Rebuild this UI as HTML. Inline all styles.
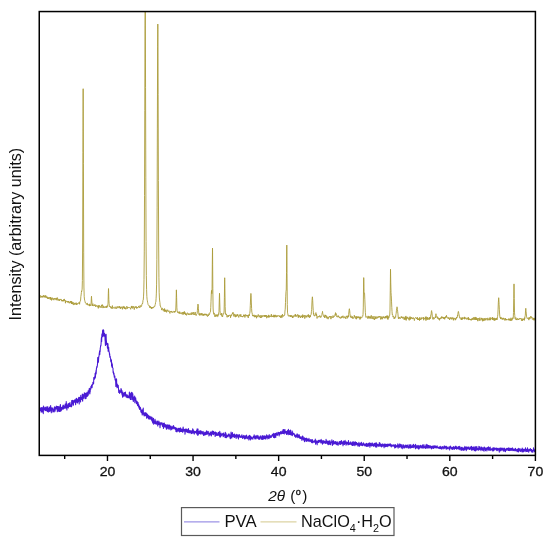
<!DOCTYPE html>
<html><head><meta charset="utf-8"><style>
html,body{margin:0;padding:0;background:#fff;}
body{width:550px;height:545px;overflow:hidden;}
svg{display:block;font-family:"Liberation Sans",sans-serif;will-change:transform;}
</style></head><body>
<svg width="550" height="545" viewBox="0 0 550 545">
<defs><clipPath id="c"><rect x="39.5" y="11.5" width="496" height="444"/></clipPath></defs>
<g clip-path="url(#c)" fill="none" stroke-linejoin="round">
<path d="M39.00 295.99L39.26 296.32 39.51 295.87 39.77 295.38 40.03 295.84 40.28 295.42 40.54 296.43 40.80 297.64 41.05 296.06 41.31 296.00 41.57 297.06 41.82 297.01 42.08 296.84 42.34 295.97 42.59 296.84 42.85 297.55 43.11 295.78 43.36 296.63 43.62 295.39 43.88 296.00 44.14 295.56 44.39 297.06 44.65 296.19 44.91 297.63 45.16 297.58 45.42 297.32 45.68 295.30 45.93 297.11 46.19 297.61 46.45 297.80 46.70 296.38 46.96 297.37 47.22 296.97 47.47 297.18 47.73 298.90 47.99 297.27 48.24 298.02 48.50 298.89 48.76 297.62 49.01 298.08 49.27 298.33 49.53 298.33 49.78 297.21 50.04 298.42 50.30 299.61 50.55 297.04 50.81 299.24 51.07 298.61 51.32 297.97 51.58 300.38 51.84 299.30 52.09 297.57 52.35 298.75 52.61 299.23 52.86 298.58 53.12 299.39 53.38 298.75 53.64 299.44 53.89 300.17 54.15 298.30 54.41 299.12 54.66 298.56 54.92 299.12 55.18 297.97 55.43 298.55 55.69 298.93 55.95 299.94 56.20 300.20 56.46 298.02 56.72 298.53 56.97 299.85 57.23 297.52 57.49 298.93 57.74 299.30 58.00 300.55 58.26 300.08 58.51 299.21 58.77 299.22 59.03 299.37 59.28 301.00 59.54 299.30 59.80 299.46 60.05 300.09 60.31 299.72 60.57 299.71 60.82 298.94 61.08 299.98 61.34 299.66 61.59 301.16 61.85 300.76 62.11 300.22 62.37 300.91 62.62 300.07 62.88 301.39 63.14 300.51 63.39 301.11 63.65 299.50 63.91 301.04 64.16 299.29 64.42 299.06 64.68 300.69 64.93 300.23 65.19 301.26 65.45 303.20 65.70 300.53 65.96 300.79 66.22 301.62 66.47 301.95 66.73 301.44 66.99 301.49 67.24 302.38 67.50 302.30 67.76 300.99 68.01 301.93 68.27 302.11 68.53 301.22 68.78 302.47 69.04 301.55 69.30 303.26 69.55 302.64 69.81 302.63 70.07 302.10 70.32 302.60 70.58 300.99 70.84 301.84 71.09 303.25 71.35 301.12 71.61 303.86 71.87 301.64 72.12 303.95 72.38 302.62 72.64 304.14 72.89 303.64 73.15 302.23 73.41 304.76 73.66 304.97 73.92 303.67 74.18 303.51 74.43 303.63 74.69 302.92 74.95 304.76 75.20 303.33 75.46 303.77 75.72 303.12 75.97 303.27 76.23 302.70 76.49 304.90 76.74 303.67 77.00 304.62 77.26 303.78 77.51 303.15 77.77 303.43 78.03 303.19 78.28 303.62 78.54 303.24 78.80 303.22 79.05 302.23 79.31 302.56 79.57 304.26 79.82 302.07 80.08 301.19 80.34 301.11 80.59 300.16 80.85 296.65 81.11 294.97 81.37 292.65 81.60 290.85 81.62 291.68 81.88 290.60 82.14 289.19 82.39 280.60 82.65 242.97 82.91 152.34 83.15 88.76 83.16 88.72 83.42 163.70 83.68 252.15 83.93 287.02 84.19 296.31 84.45 299.07 84.70 300.36 84.96 301.26 85.22 302.70 85.47 302.50 85.73 302.95 85.99 303.35 86.24 304.49 86.50 304.27 86.76 304.18 87.01 303.53 87.27 302.95 87.53 305.01 87.78 305.13 88.04 304.27 88.30 304.94 88.55 305.22 88.81 305.34 89.07 305.48 89.32 304.36 89.58 306.12 89.84 303.77 90.09 305.63 90.35 305.32 90.61 305.58 90.87 305.96 91.12 303.31 91.38 297.43 91.50 296.25 91.64 298.64 91.89 302.04 92.15 304.79 92.41 306.01 92.66 304.04 92.92 303.73 93.18 305.90 93.43 305.78 93.69 305.59 93.95 305.90 94.20 305.16 94.46 304.64 94.72 305.88 94.97 305.21 95.23 304.65 95.49 306.60 95.74 306.14 96.00 306.60 96.26 305.39 96.51 305.73 96.77 305.46 97.03 305.60 97.28 306.60 97.54 305.76 97.80 306.81 98.05 306.83 98.31 308.36 98.57 305.35 98.82 307.41 99.08 306.56 99.34 306.65 99.60 305.40 99.85 306.30 100.11 307.39 100.37 306.67 100.62 306.83 100.88 306.52 101.14 307.82 101.39 306.79 101.65 304.86 101.91 306.22 102.16 305.09 102.42 304.63 102.68 306.40 102.93 308.08 103.19 306.94 103.45 305.86 103.70 306.08 103.96 307.94 104.22 307.08 104.47 306.99 104.73 306.90 104.99 306.99 105.24 307.68 105.50 307.45 105.76 307.15 106.01 306.03 106.27 307.39 106.53 306.32 106.78 307.84 107.04 305.72 107.30 306.60 107.55 306.50 107.81 304.75 108.07 303.14 108.32 293.38 108.50 288.55 108.58 290.00 108.84 299.52 109.10 303.27 109.35 306.61 109.61 306.68 109.87 306.96 110.12 306.04 110.38 306.80 110.64 306.92 110.89 308.16 111.15 307.43 111.41 307.15 111.66 308.53 111.92 306.70 112.18 306.86 112.43 305.60 112.69 308.63 112.95 308.10 113.20 308.07 113.46 307.86 113.72 307.37 113.97 307.47 114.23 307.06 114.49 307.12 114.74 307.35 115.00 308.66 115.26 307.82 115.51 307.28 115.77 306.82 116.03 306.78 116.28 308.78 116.54 307.82 116.80 307.43 117.05 307.07 117.31 306.40 117.57 307.34 117.82 308.18 118.08 307.06 118.34 307.22 118.60 307.23 118.85 307.54 119.11 306.03 119.37 307.24 119.62 306.70 119.88 308.26 120.14 306.79 120.39 308.00 120.65 308.85 120.91 307.22 121.16 306.97 121.42 307.68 121.68 307.51 121.93 306.64 122.19 307.94 122.45 309.32 122.70 307.31 122.96 307.36 123.22 306.62 123.47 307.84 123.73 306.45 123.99 306.58 124.24 308.70 124.50 306.77 124.76 308.54 125.01 308.93 125.27 307.82 125.53 308.08 125.78 309.32 126.04 307.42 126.30 307.08 126.55 306.41 126.81 307.65 127.07 308.92 127.32 308.46 127.58 306.79 127.84 306.87 128.10 307.18 128.35 307.88 128.61 307.45 128.87 307.82 129.12 307.90 129.38 307.37 129.64 307.60 129.89 307.82 130.15 307.57 130.41 308.08 130.66 309.29 130.92 308.16 131.18 307.69 131.43 306.17 131.69 307.98 131.95 305.94 132.20 306.41 132.46 308.39 132.72 308.26 132.97 307.51 133.23 306.15 133.49 307.31 133.74 307.04 134.00 308.17 134.26 309.57 134.51 307.80 134.77 306.93 135.03 306.59 135.28 307.54 135.54 307.42 135.80 306.58 136.05 307.65 136.31 306.55 136.57 308.45 136.83 308.39 137.08 308.38 137.34 307.04 137.60 307.84 137.85 307.27 138.11 307.02 138.37 307.01 138.62 306.18 138.88 306.02 139.14 307.75 139.39 306.89 139.65 307.12 139.91 307.62 140.16 305.40 140.42 306.00 140.68 306.55 140.93 306.50 141.19 305.71 141.45 306.39 141.70 305.46 141.96 304.11 142.22 303.75 142.47 304.03 142.73 302.85 142.99 300.39 143.24 300.05 143.50 296.90 143.76 291.97 144.01 279.68 144.27 251.90 144.53 195.33 144.78 110.29 145.04 25.88 145.20 6.98 145.30 13.99 145.55 87.49 145.81 177.13 146.07 241.67 146.33 275.62 146.58 289.40 146.84 296.41 147.10 299.36 147.35 300.77 147.61 302.44 147.87 303.51 148.12 304.55 148.38 304.89 148.64 305.19 148.89 305.93 149.15 305.77 149.41 305.84 149.66 306.93 149.92 307.79 150.18 306.21 150.43 307.45 150.69 307.08 150.95 306.92 151.20 308.35 151.46 307.39 151.72 308.92 151.97 307.25 152.23 308.11 152.49 307.64 152.74 307.21 153.00 308.13 153.26 307.50 153.51 307.90 153.77 307.28 154.03 306.36 154.28 306.73 154.54 306.46 154.80 306.52 155.05 304.79 155.31 304.43 155.57 302.44 155.83 301.92 156.08 298.69 156.34 293.90 156.60 284.13 156.85 259.72 157.11 207.91 157.37 128.09 157.62 46.88 157.80 24.06 157.88 29.30 158.14 94.40 158.39 180.59 158.65 244.01 158.91 277.20 159.16 292.22 159.42 297.96 159.68 300.99 159.93 302.64 160.19 305.92 160.45 305.82 160.70 306.96 160.96 307.44 161.22 308.08 161.47 308.43 161.73 310.09 161.99 308.29 162.24 308.14 162.50 308.75 162.76 308.68 163.01 310.45 163.27 310.67 163.53 309.39 163.78 309.16 164.04 310.10 164.30 311.62 164.55 308.54 164.81 311.11 165.07 309.86 165.33 311.70 165.58 310.00 165.84 310.73 166.10 309.76 166.35 310.27 166.61 312.33 166.87 311.91 167.12 310.92 167.38 310.58 167.64 309.75 167.89 311.08 168.15 311.44 168.41 311.45 168.66 311.48 168.92 310.64 169.18 311.60 169.43 311.67 169.69 312.86 169.95 313.41 170.20 311.71 170.46 311.20 170.72 311.85 170.97 311.41 171.23 311.33 171.49 311.97 171.74 311.14 172.00 312.62 172.26 312.03 172.51 312.37 172.77 312.03 173.03 311.58 173.28 311.41 173.54 312.06 173.80 311.81 174.06 312.50 174.31 312.30 174.57 311.11 174.83 312.31 175.08 311.04 175.34 311.50 175.60 311.33 175.85 308.03 176.11 300.88 176.37 290.18 176.40 289.85 176.62 297.33 176.88 307.81 177.14 310.72 177.39 311.97 177.65 312.00 177.91 312.71 178.16 311.70 178.42 313.03 178.68 313.02 178.93 312.82 179.19 312.61 179.45 313.53 179.70 311.61 179.96 313.53 180.22 313.37 180.47 313.44 180.73 313.56 180.99 312.68 181.24 313.06 181.50 313.88 181.76 313.73 182.01 313.56 182.27 312.06 182.53 313.91 182.78 314.49 183.04 314.38 183.30 313.71 183.56 312.15 183.81 314.39 184.07 313.45 184.33 311.38 184.58 313.96 184.84 312.32 185.10 312.51 185.35 313.13 185.61 314.85 185.87 313.40 186.12 313.99 186.38 315.33 186.64 315.21 186.89 313.72 187.15 313.61 187.41 312.72 187.66 313.24 187.92 314.26 188.18 314.25 188.43 314.01 188.69 314.81 188.95 313.25 189.20 313.91 189.46 314.62 189.72 314.51 189.97 314.96 190.23 314.37 190.49 313.75 190.74 314.37 191.00 313.16 191.26 312.61 191.51 314.60 191.77 314.04 192.03 314.38 192.28 312.60 192.54 313.80 192.80 313.60 193.06 313.38 193.31 312.15 193.57 313.87 193.83 314.97 194.08 314.52 194.34 313.65 194.60 314.18 194.85 314.86 195.11 311.98 195.37 314.07 195.62 314.65 195.88 314.75 196.14 315.60 196.39 315.04 196.65 314.21 196.91 313.92 197.16 313.42 197.42 310.30 197.68 306.84 197.93 304.04 198.00 304.28 198.19 304.82 198.45 308.83 198.70 312.10 198.96 314.50 199.22 313.91 199.47 315.39 199.73 313.39 199.99 314.13 200.24 314.17 200.50 315.07 200.76 315.33 201.01 313.10 201.27 313.65 201.53 314.78 201.78 313.91 202.04 313.16 202.30 315.45 202.56 314.98 202.81 314.99 203.07 314.14 203.33 315.48 203.58 314.37 203.84 315.56 204.10 313.79 204.35 313.85 204.61 314.79 204.87 314.00 205.12 315.22 205.38 314.86 205.64 313.82 205.89 314.70 206.15 314.33 206.41 315.45 206.66 314.08 206.92 314.25 207.18 315.69 207.43 316.58 207.69 316.35 207.95 314.64 208.20 314.75 208.46 315.85 208.72 314.38 208.97 313.59 209.23 314.43 209.49 314.59 209.74 313.37 210.00 312.44 210.26 312.04 210.51 311.89 210.77 307.39 211.03 301.22 211.29 293.83 211.50 290.69 211.54 290.38 211.80 293.77 212.06 291.17 212.31 264.57 212.50 248.09 212.57 252.35 212.83 288.83 213.08 307.98 213.34 312.02 213.60 313.14 213.85 314.40 214.11 312.89 214.37 313.55 214.62 314.24 214.88 316.79 215.14 315.58 215.39 314.73 215.65 315.50 215.91 316.71 216.16 314.76 216.42 314.67 216.68 316.06 216.93 315.45 217.19 315.61 217.45 314.58 217.70 316.65 217.96 316.40 218.22 315.32 218.47 315.21 218.73 312.52 218.99 311.78 219.24 301.99 219.50 293.24 219.50 293.31 219.76 302.09 220.01 310.47 220.27 314.48 220.53 314.14 220.79 314.69 221.04 314.58 221.30 314.87 221.56 313.21 221.81 316.30 222.07 315.47 222.33 316.21 222.58 316.93 222.84 315.19 223.10 313.55 223.35 314.18 223.61 313.66 223.87 313.59 224.12 310.98 224.38 297.78 224.64 279.61 224.70 277.75 224.89 288.22 225.15 306.46 225.41 312.93 225.66 314.45 225.92 314.50 226.18 314.67 226.43 313.89 226.69 315.41 226.95 317.11 227.20 317.29 227.46 316.76 227.72 316.26 227.97 315.07 228.23 316.96 228.49 315.66 228.74 315.66 229.00 315.48 229.26 315.83 229.51 315.37 229.77 315.69 230.03 314.81 230.29 315.43 230.54 317.77 230.80 315.67 231.06 315.48 231.31 316.04 231.57 315.94 231.83 314.02 232.08 314.10 232.34 314.07 232.60 312.89 232.80 312.58 232.85 313.51 233.11 312.54 233.37 313.87 233.62 314.20 233.88 316.42 234.14 313.88 234.39 315.15 234.65 315.36 234.91 316.47 235.16 316.45 235.42 317.17 235.68 314.55 235.93 316.63 236.19 315.72 236.45 315.40 236.70 316.48 236.96 315.18 237.22 314.16 237.47 315.69 237.73 314.69 237.99 315.45 238.24 316.36 238.50 316.31 238.76 317.46 239.01 315.86 239.27 314.67 239.53 315.37 239.79 315.22 240.04 314.95 240.30 316.43 240.56 315.47 240.81 314.28 241.07 316.67 241.33 315.94 241.58 316.36 241.84 316.14 242.10 316.61 242.35 316.07 242.61 317.14 242.87 316.42 243.12 316.38 243.38 316.40 243.64 314.73 243.89 315.88 244.15 315.79 244.41 316.20 244.66 314.80 244.92 317.47 245.18 316.10 245.43 314.92 245.69 314.47 245.95 315.73 246.20 315.89 246.46 315.32 246.72 316.03 246.97 315.36 247.23 316.39 247.49 315.25 247.74 315.82 248.00 316.66 248.26 317.93 248.52 314.82 248.77 315.20 249.03 314.76 249.29 315.89 249.54 313.89 249.80 313.32 250.06 310.98 250.31 305.61 250.57 298.99 250.83 294.27 250.90 293.44 251.08 295.45 251.34 302.06 251.60 308.49 251.85 312.26 252.11 312.95 252.37 314.66 252.62 316.02 252.88 316.00 253.14 315.57 253.39 314.96 253.65 316.33 253.91 315.33 254.16 314.84 254.42 315.19 254.68 317.20 254.93 316.14 255.19 316.98 255.45 315.55 255.70 316.82 255.96 315.46 256.22 315.86 256.47 318.22 256.73 316.70 256.99 315.57 257.24 315.95 257.50 316.32 257.76 317.11 258.02 315.60 258.27 314.48 258.53 315.79 258.79 316.06 259.04 316.14 259.30 317.23 259.56 316.33 259.81 316.78 260.07 315.07 260.33 316.83 260.58 317.93 260.84 316.75 261.10 316.29 261.35 316.20 261.61 317.66 261.87 315.23 262.12 315.96 262.38 316.48 262.64 316.73 262.89 315.67 263.15 316.34 263.41 315.82 263.66 316.17 263.92 315.95 264.18 315.04 264.43 316.05 264.69 316.85 264.95 315.20 265.20 315.85 265.46 316.66 265.72 315.11 265.97 316.23 266.23 315.12 266.49 317.09 266.74 318.14 267.00 317.88 267.26 315.87 267.52 316.73 267.77 316.18 268.03 316.16 268.29 317.46 268.54 314.89 268.80 317.01 269.06 316.02 269.31 317.33 269.57 316.24 269.83 315.46 270.08 316.32 270.34 316.73 270.60 316.10 270.85 316.50 271.11 315.60 271.37 314.15 271.62 316.87 271.88 316.69 272.14 316.20 272.39 316.13 272.65 316.99 272.91 315.66 273.16 315.43 273.42 315.90 273.68 317.13 273.93 314.82 274.19 317.13 274.45 315.49 274.70 315.08 274.96 317.19 275.22 315.98 275.47 314.90 275.73 315.74 275.99 316.90 276.24 317.13 276.50 315.68 276.76 316.43 277.02 316.70 277.27 315.49 277.53 316.38 277.79 316.03 278.04 315.58 278.30 315.62 278.56 316.11 278.81 316.08 279.07 315.54 279.33 315.66 279.58 317.03 279.84 316.22 280.10 316.81 280.35 317.09 280.61 316.53 280.87 318.01 281.12 315.26 281.38 316.69 281.64 315.68 281.89 317.57 282.15 317.40 282.41 314.18 282.66 315.01 282.92 316.37 283.18 316.42 283.43 316.29 283.69 315.50 283.95 315.80 284.20 315.75 284.46 314.82 284.72 314.92 284.97 311.08 285.23 309.21 285.49 302.54 285.75 296.14 286.00 291.43 286.00 291.21 286.26 289.97 286.52 272.79 286.77 245.28 286.80 245.03 287.03 273.66 287.29 304.46 287.54 312.86 287.80 313.82 288.06 315.45 288.31 315.09 288.57 315.27 288.83 316.01 289.08 316.56 289.34 315.47 289.60 315.63 289.85 315.76 290.11 316.02 290.37 315.21 290.62 316.93 290.88 315.70 291.14 316.49 291.39 315.37 291.65 316.44 291.91 316.48 292.16 315.78 292.42 317.96 292.68 316.51 292.93 317.77 293.19 317.05 293.45 315.62 293.70 315.88 293.96 316.62 294.22 316.29 294.47 316.29 294.73 315.99 294.99 314.64 295.25 316.06 295.50 314.29 295.76 316.61 296.02 315.63 296.27 315.65 296.53 316.10 296.79 316.54 297.04 315.02 297.30 314.74 297.56 315.36 297.81 314.49 298.07 315.46 298.33 317.75 298.58 315.38 298.84 316.92 299.10 315.11 299.35 316.61 299.61 316.06 299.87 316.30 300.12 316.86 300.38 317.93 300.64 316.53 300.89 316.48 301.15 315.50 301.41 316.89 301.66 316.15 301.92 317.12 302.18 316.34 302.43 317.94 302.69 314.61 302.95 316.13 303.20 317.18 303.46 316.08 303.72 315.69 303.97 316.16 304.23 315.17 304.49 316.51 304.75 318.59 305.00 317.43 305.26 315.42 305.52 315.63 305.77 316.05 306.03 317.31 306.29 315.68 306.54 315.80 306.80 317.20 307.06 317.18 307.31 316.07 307.57 315.41 307.83 315.02 308.08 315.77 308.34 314.40 308.60 317.02 308.85 315.78 309.11 316.73 309.37 317.91 309.62 317.25 309.88 315.19 310.14 316.84 310.39 316.96 310.65 315.18 310.91 314.68 311.16 314.50 311.42 311.69 311.68 309.77 311.93 302.96 312.19 298.31 312.40 296.81 312.45 296.93 312.70 300.46 312.96 306.05 313.22 310.54 313.47 314.31 313.73 313.37 313.99 315.60 314.25 315.27 314.50 316.08 314.76 316.13 315.02 314.95 315.27 314.56 315.53 314.56 315.79 313.33 315.90 312.58 316.04 314.51 316.30 315.85 316.56 314.18 316.81 316.24 317.07 318.46 317.33 317.13 317.58 316.71 317.84 316.37 318.10 316.10 318.35 316.41 318.61 316.13 318.87 317.29 319.12 316.29 319.38 316.26 319.64 315.59 319.89 316.61 320.15 315.86 320.41 316.48 320.66 317.54 320.92 316.91 321.18 316.94 321.43 316.57 321.69 315.73 321.95 314.45 322.20 312.82 322.46 312.45 322.50 311.39 322.72 313.41 322.98 314.15 323.23 314.87 323.49 315.80 323.75 315.95 324.00 316.81 324.26 316.09 324.52 317.78 324.77 316.10 325.03 314.80 325.29 316.19 325.54 315.07 325.80 316.84 326.06 317.83 326.31 317.47 326.57 315.71 326.83 316.24 327.08 318.52 327.34 317.22 327.60 316.95 327.85 317.90 328.11 319.16 328.37 318.13 328.62 317.10 328.88 317.30 329.14 317.55 329.39 316.45 329.65 316.06 329.91 317.06 330.16 316.17 330.42 316.97 330.68 317.12 330.93 319.13 331.19 316.28 331.45 316.93 331.70 316.90 331.96 317.44 332.22 317.98 332.48 316.61 332.73 316.31 332.99 315.58 333.25 316.20 333.50 317.47 333.76 316.99 334.02 315.95 334.27 316.29 334.53 316.20 334.79 315.90 335.04 314.29 335.30 313.84 335.50 312.64 335.56 313.08 335.81 315.37 336.07 313.52 336.33 315.61 336.58 316.62 336.84 316.47 337.10 316.26 337.35 317.01 337.61 317.10 337.87 317.07 338.12 315.49 338.38 317.05 338.64 316.43 338.89 316.72 339.15 317.42 339.41 317.80 339.66 318.04 339.92 316.80 340.18 318.07 340.43 318.30 340.69 318.28 340.95 318.51 341.20 317.14 341.46 317.12 341.72 318.02 341.98 316.06 342.23 317.47 342.49 316.81 342.75 316.96 343.00 315.74 343.26 316.50 343.52 317.28 343.77 318.09 344.03 318.19 344.29 317.23 344.54 317.13 344.80 316.56 345.06 317.66 345.31 317.08 345.57 317.83 345.83 318.85 346.08 317.25 346.34 315.94 346.60 316.49 346.85 315.94 347.11 316.15 347.37 318.31 347.62 317.30 347.88 315.68 348.14 317.26 348.39 317.03 348.65 314.39 348.91 311.94 349.16 309.56 349.40 308.72 349.42 308.89 349.68 310.67 349.93 313.45 350.19 315.77 350.45 317.30 350.70 317.36 350.96 315.72 351.22 317.03 351.48 317.49 351.73 316.92 351.99 318.09 352.25 316.99 352.50 316.51 352.76 318.63 353.02 317.95 353.27 317.57 353.53 318.21 353.79 318.33 354.04 317.70 354.30 315.21 354.56 316.80 354.81 317.00 355.07 316.53 355.33 317.59 355.58 318.48 355.84 316.99 356.10 316.41 356.35 319.23 356.61 317.02 356.87 316.32 357.12 317.63 357.38 317.80 357.64 316.79 357.89 318.12 358.15 316.98 358.41 316.58 358.66 317.56 358.92 318.07 359.18 316.82 359.43 317.66 359.69 317.27 359.95 319.54 360.21 316.70 360.46 318.50 360.72 317.21 360.98 317.11 361.23 317.78 361.49 317.85 361.75 318.06 362.00 317.13 362.26 316.17 362.52 315.92 362.77 316.18 363.03 314.72 363.29 307.91 363.54 287.07 363.70 277.62 363.80 279.17 364.06 291.80 364.31 293.55 364.50 293.13 364.57 293.55 364.83 299.81 365.08 306.00 365.34 312.34 365.60 315.04 365.85 317.27 366.11 317.33 366.37 316.71 366.62 316.80 366.88 317.15 367.14 317.32 367.39 316.78 367.65 317.27 367.91 318.74 368.16 315.88 368.42 317.63 368.68 316.63 368.93 317.61 369.19 318.21 369.45 317.43 369.71 318.18 369.96 316.10 370.22 318.50 370.48 316.99 370.73 318.09 370.99 317.71 371.25 315.33 371.50 316.89 371.76 317.77 372.02 318.96 372.27 317.84 372.53 317.82 372.79 316.33 373.04 318.88 373.30 319.22 373.56 317.63 373.81 317.42 374.07 316.17 374.33 318.41 374.58 319.86 374.84 318.27 375.10 318.76 375.35 318.12 375.61 316.76 375.87 318.84 376.12 316.54 376.38 317.46 376.64 317.90 376.89 318.44 377.15 318.03 377.41 318.01 377.66 316.98 377.92 316.51 378.18 317.72 378.43 317.03 378.69 316.50 378.95 316.54 379.21 317.24 379.46 316.02 379.72 316.48 379.98 316.22 380.23 317.85 380.49 318.05 380.75 319.48 381.00 316.35 381.26 317.08 381.52 318.51 381.77 317.50 382.03 317.40 382.29 319.22 382.54 317.39 382.80 316.66 383.06 316.52 383.31 317.99 383.57 317.97 383.83 316.47 384.08 316.81 384.34 318.16 384.60 318.20 384.85 317.11 385.11 318.23 385.37 318.18 385.62 316.08 385.88 317.38 386.14 318.01 386.39 317.12 386.65 315.73 386.91 317.34 387.16 318.22 387.42 318.91 387.68 315.59 387.93 319.59 388.19 316.40 388.45 318.08 388.71 318.16 388.96 317.74 389.22 316.76 389.48 315.26 389.73 315.43 389.99 309.96 390.25 290.70 390.50 269.75 390.50 269.17 390.76 282.74 391.02 292.62 391.20 294.96 391.27 295.78 391.53 301.12 391.79 307.26 392.04 311.64 392.30 314.92 392.56 314.61 392.81 315.44 393.07 317.12 393.33 316.37 393.58 317.16 393.84 317.27 394.10 319.03 394.35 318.52 394.61 317.37 394.87 318.39 395.12 316.62 395.38 316.77 395.64 317.24 395.89 314.66 396.15 313.64 396.41 310.74 396.66 308.87 396.92 307.85 397.00 306.80 397.18 307.74 397.44 309.43 397.69 311.85 397.95 313.88 398.21 317.20 398.46 318.83 398.72 317.76 398.98 316.96 399.23 318.29 399.49 317.47 399.75 318.51 400.00 318.11 400.26 318.14 400.52 318.46 400.77 317.44 401.03 317.62 401.29 316.47 401.54 317.62 401.80 316.76 402.06 317.91 402.31 317.20 402.57 318.16 402.83 318.49 403.08 316.83 403.34 317.38 403.60 317.27 403.85 318.79 404.11 319.66 404.37 318.90 404.62 317.84 404.88 319.47 405.14 316.81 405.39 319.51 405.65 317.59 405.91 315.95 406.16 320.43 406.42 319.61 406.68 317.28 406.94 318.37 407.19 318.03 407.45 318.32 407.71 316.90 407.96 317.63 408.22 318.66 408.48 318.45 408.73 319.33 408.99 318.33 409.25 320.37 409.50 317.63 409.76 318.51 410.02 316.56 410.27 317.16 410.53 319.48 410.79 317.45 411.04 318.78 411.30 318.25 411.56 317.37 411.81 318.00 412.07 317.86 412.33 317.88 412.58 319.00 412.84 318.91 413.10 317.81 413.35 317.52 413.61 318.59 413.87 318.25 414.12 319.27 414.38 320.59 414.64 319.11 414.89 318.32 415.15 318.20 415.41 317.59 415.66 317.55 415.92 317.46 416.18 318.01 416.44 317.98 416.69 319.04 416.95 318.01 417.21 318.20 417.46 317.28 417.72 319.85 417.98 318.83 418.23 319.98 418.49 319.09 418.75 319.72 419.00 318.16 419.26 319.02 419.52 320.63 419.77 317.28 420.03 319.44 420.29 319.91 420.54 318.76 420.80 319.07 421.06 319.53 421.31 317.78 421.57 318.75 421.83 317.58 422.08 317.76 422.34 317.81 422.60 318.25 422.85 318.51 423.11 318.79 423.37 317.07 423.62 320.20 423.88 319.44 424.14 319.04 424.39 318.04 424.65 318.29 424.91 318.88 425.16 318.75 425.42 316.83 425.68 319.05 425.94 320.61 426.19 316.67 426.45 319.28 426.71 318.70 426.96 318.25 427.22 319.61 427.48 317.26 427.73 318.49 427.99 319.68 428.25 318.15 428.50 317.93 428.76 318.41 429.02 317.88 429.27 319.68 429.53 317.42 429.79 318.99 430.04 317.01 430.30 318.60 430.56 317.59 430.81 314.91 431.07 314.96 431.33 311.81 431.58 310.59 431.60 311.54 431.84 311.49 432.10 313.97 432.35 317.72 432.61 317.69 432.87 319.31 433.12 318.37 433.38 317.35 433.64 318.11 433.89 319.29 434.15 319.03 434.41 318.15 434.67 318.11 434.92 317.74 435.18 316.85 435.44 317.84 435.69 315.21 435.95 313.72 436.00 314.10 436.21 315.27 436.46 316.40 436.72 316.91 436.98 317.14 437.23 318.06 437.49 316.67 437.75 317.05 438.00 319.00 438.26 317.85 438.52 318.65 438.77 319.44 439.03 318.92 439.29 318.35 439.54 320.30 439.80 318.96 440.06 318.02 440.31 319.02 440.57 318.73 440.83 317.57 441.08 318.42 441.34 318.20 441.60 316.54 441.85 318.20 442.11 318.09 442.37 317.95 442.62 316.84 442.88 318.02 443.14 318.31 443.39 318.43 443.65 317.28 443.91 318.89 444.17 317.18 444.42 318.04 444.68 319.32 444.94 317.35 445.19 317.22 445.45 318.12 445.71 316.53 445.96 316.38 446.00 316.77 446.22 317.55 446.48 315.34 446.73 316.84 446.99 317.00 447.25 317.13 447.50 317.45 447.76 317.52 448.02 318.59 448.27 317.51 448.53 318.45 448.79 318.71 449.04 317.68 449.30 318.47 449.56 319.86 449.81 318.65 450.07 317.77 450.33 318.30 450.58 317.52 450.84 318.61 451.10 319.16 451.35 317.62 451.61 318.18 451.87 319.39 452.12 317.92 452.38 318.55 452.64 317.44 452.89 317.63 453.15 317.91 453.41 320.33 453.67 318.02 453.92 317.91 454.18 317.88 454.44 318.24 454.69 318.97 454.95 318.55 455.21 320.21 455.46 318.56 455.72 319.64 455.98 318.58 456.23 318.84 456.49 317.00 456.75 318.06 457.00 317.90 457.26 317.29 457.52 314.97 457.77 315.55 458.03 312.89 458.29 311.46 458.40 311.38 458.54 311.68 458.80 313.58 459.06 314.44 459.31 316.06 459.57 317.88 459.83 318.22 460.08 317.98 460.34 317.91 460.60 317.74 460.85 318.47 461.11 319.61 461.37 317.65 461.62 319.97 461.88 319.39 462.14 318.26 462.39 319.38 462.65 317.39 462.91 317.16 463.17 317.57 463.42 318.38 463.68 318.46 463.94 318.31 464.19 318.87 464.45 316.88 464.71 319.25 464.96 317.55 465.22 318.24 465.48 318.47 465.73 317.81 465.99 317.63 466.25 317.97 466.50 318.87 466.76 319.42 467.02 319.41 467.27 318.02 467.53 318.21 467.79 318.10 468.04 319.34 468.30 317.11 468.56 320.06 468.81 318.52 469.07 318.26 469.33 319.27 469.58 319.90 469.84 319.29 470.10 319.93 470.35 319.11 470.61 320.10 470.87 320.12 471.12 318.92 471.38 320.31 471.64 319.17 471.90 319.10 472.15 318.20 472.41 318.78 472.67 319.74 472.92 317.87 473.18 319.64 473.44 319.37 473.69 319.31 473.95 317.09 474.21 318.98 474.46 319.66 474.72 318.40 474.98 319.17 475.23 316.96 475.49 319.70 475.75 318.51 476.00 319.89 476.26 317.46 476.52 319.74 476.77 318.91 477.03 319.86 477.29 318.30 477.54 318.59 477.80 321.16 478.06 318.41 478.31 318.52 478.57 318.91 478.83 318.25 479.08 320.24 479.34 320.72 479.60 318.55 479.85 317.63 480.11 320.24 480.37 320.19 480.62 319.93 480.88 320.24 481.14 318.42 481.40 319.06 481.65 317.97 481.91 317.94 482.17 320.10 482.42 318.62 482.68 321.27 482.94 319.30 483.19 318.66 483.45 319.95 483.71 320.86 483.96 319.68 484.22 318.15 484.48 319.58 484.73 320.48 484.99 318.81 485.25 318.56 485.50 320.17 485.76 319.38 486.02 318.27 486.27 318.92 486.53 318.58 486.79 319.53 487.04 319.36 487.30 320.30 487.56 319.90 487.81 317.86 488.07 319.63 488.33 320.07 488.58 319.67 488.84 320.19 489.10 318.77 489.35 318.41 489.61 320.10 489.87 318.31 490.12 317.32 490.38 320.17 490.64 318.60 490.90 318.98 491.15 318.00 491.41 318.06 491.67 318.20 491.92 318.91 492.18 319.56 492.44 317.17 492.69 319.89 492.95 318.15 493.21 318.25 493.46 319.79 493.72 319.11 493.98 317.80 494.23 320.78 494.49 318.37 494.75 319.33 495.00 319.26 495.26 320.29 495.52 318.62 495.77 319.85 496.03 318.27 496.29 319.80 496.54 318.08 496.80 318.27 497.06 319.85 497.31 317.99 497.57 316.52 497.83 314.91 498.08 309.17 498.34 302.79 498.60 298.82 498.70 297.72 498.85 299.54 499.11 304.71 499.37 309.87 499.62 314.04 499.88 316.90 500.14 317.88 500.40 317.55 500.65 319.05 500.91 316.97 501.17 318.43 501.42 318.52 501.68 318.68 501.94 319.23 502.19 317.91 502.45 319.53 502.71 318.87 502.96 318.47 503.22 317.85 503.48 318.02 503.73 319.39 503.99 318.22 504.25 319.14 504.50 320.03 504.76 320.01 505.02 320.48 505.27 318.83 505.53 318.12 505.79 320.00 506.04 319.36 506.30 320.09 506.56 319.09 506.81 320.15 507.07 319.83 507.33 319.71 507.58 319.52 507.84 319.42 508.10 319.27 508.35 319.26 508.61 319.94 508.87 318.59 509.13 320.59 509.38 318.93 509.64 319.90 509.90 318.93 510.15 318.78 510.41 320.79 510.67 318.69 510.92 317.82 511.18 318.29 511.44 318.61 511.69 320.74 511.95 318.97 512.21 319.52 512.46 317.74 512.72 318.70 512.98 318.61 513.23 318.50 513.49 312.49 513.75 298.29 514.00 284.29 514.00 283.90 514.26 298.62 514.52 312.92 514.77 315.47 515.03 318.53 515.29 318.83 515.54 318.18 515.80 317.51 516.06 320.03 516.31 319.02 516.57 319.72 516.83 320.09 517.08 318.40 517.34 319.60 517.60 318.67 517.85 318.84 518.11 318.82 518.37 318.90 518.63 319.90 518.88 319.01 519.14 318.77 519.40 318.66 519.65 319.21 519.91 318.10 520.17 318.45 520.42 318.85 520.68 318.39 520.94 318.78 521.19 318.34 521.45 320.67 521.71 320.06 521.96 319.27 522.22 318.81 522.48 320.80 522.73 319.12 522.99 318.74 523.25 319.06 523.50 319.04 523.76 319.97 524.02 318.66 524.27 320.42 524.53 317.69 524.79 318.62 525.04 316.16 525.30 315.27 525.56 310.20 525.80 308.28 525.81 308.68 526.07 311.34 526.33 313.94 526.58 316.82 526.84 316.96 527.10 318.57 527.35 318.50 527.61 318.35 527.87 318.10 528.13 318.39 528.38 318.09 528.64 319.23 528.90 320.11 529.15 317.05 529.41 318.65 529.67 318.35 529.92 319.04 530.18 317.54 530.44 317.71 530.69 316.33 530.95 317.11 531.00 316.67 531.21 316.74 531.46 317.86 531.72 318.00 531.98 317.23 532.23 319.27 532.49 319.06 532.75 318.70 533.00 319.74 533.26 319.97 533.52 317.92 533.77 318.21 534.03 320.30 534.29 320.20 534.54 318.27 534.80 317.88 535.06 318.38 535.31 318.51" stroke="#ab9c3a" stroke-width="0.9"/>
<path d="M39.00 406.46L39.17 409.04 39.34 406.98 39.51 407.10 39.68 410.50 39.86 407.97 40.03 408.96 40.20 410.09 40.37 410.40 40.54 408.59 40.71 409.21 40.88 407.84 41.05 411.93 41.23 410.21 41.40 407.44 41.57 409.21 41.74 410.35 41.91 409.99 42.08 412.14 42.25 411.43 42.42 408.41 42.59 409.14 42.77 407.26 42.94 409.69 43.11 409.55 43.28 413.60 43.45 409.48 43.62 406.02 43.79 408.28 43.96 409.53 44.14 407.38 44.31 408.00 44.48 408.80 44.65 409.93 44.82 409.13 44.99 407.99 45.16 410.65 45.33 408.56 45.50 408.63 45.68 407.24 45.85 408.18 46.02 410.46 46.19 406.87 46.36 409.32 46.53 410.57 46.70 408.85 46.87 409.82 47.05 407.68 47.22 411.52 47.39 411.19 47.56 409.82 47.73 406.67 47.90 407.79 48.07 410.99 48.24 412.15 48.41 409.91 48.59 411.41 48.76 408.48 48.93 409.13 49.10 409.43 49.27 410.09 49.44 407.00 49.61 410.90 49.78 411.50 49.96 407.59 50.13 407.25 50.30 409.94 50.47 408.35 50.64 405.62 50.81 410.64 50.98 409.60 51.15 408.59 51.32 412.68 51.50 409.55 51.67 408.12 51.84 409.46 52.01 407.64 52.18 408.07 52.35 409.88 52.52 408.37 52.69 408.52 52.86 411.87 53.04 410.57 53.21 410.46 53.38 410.01 53.55 409.92 53.72 411.45 53.89 409.09 54.06 412.04 54.23 407.57 54.41 408.66 54.58 406.85 54.75 408.47 54.92 409.82 55.09 411.28 55.26 407.90 55.43 408.94 55.60 408.33 55.77 407.71 55.95 406.96 56.12 408.93 56.29 406.05 56.46 408.95 56.63 408.78 56.80 407.67 56.97 407.08 57.14 406.46 57.32 411.61 57.49 406.46 57.66 411.05 57.83 409.49 58.00 407.92 58.17 406.63 58.34 410.10 58.51 411.16 58.68 406.88 58.86 407.85 59.03 409.97 59.20 408.79 59.37 411.41 59.54 407.27 59.71 409.01 59.88 406.10 60.05 411.41 60.23 406.85 60.40 404.44 60.57 407.73 60.74 407.67 60.91 410.92 61.08 407.26 61.25 407.74 61.42 408.66 61.59 410.21 61.77 407.52 61.94 409.24 62.11 408.36 62.28 407.00 62.45 407.55 62.62 407.42 62.79 405.85 62.96 409.22 63.14 404.99 63.31 409.05 63.48 408.65 63.65 406.91 63.82 405.77 63.99 406.58 64.16 407.65 64.33 408.03 64.50 407.24 64.68 408.32 64.85 405.75 65.02 406.98 65.19 404.00 65.36 407.71 65.53 406.66 65.70 405.68 65.87 408.17 66.05 407.34 66.22 401.61 66.39 406.16 66.56 403.66 66.73 407.69 66.90 409.94 67.07 404.98 67.24 405.88 67.41 405.28 67.59 406.19 67.76 406.60 67.93 407.57 68.10 403.79 68.27 407.90 68.44 403.73 68.61 405.64 68.78 407.00 68.96 406.20 69.13 403.42 69.30 403.73 69.47 404.05 69.64 404.64 69.81 406.53 69.98 402.45 70.15 405.26 70.32 405.41 70.50 405.25 70.67 405.01 70.84 406.67 71.01 404.89 71.18 405.41 71.35 404.85 71.52 406.79 71.69 400.61 71.87 405.78 72.04 403.14 72.21 403.02 72.38 401.80 72.55 400.22 72.72 402.59 72.89 402.00 73.06 403.87 73.23 400.51 73.41 405.25 73.58 403.23 73.75 402.27 73.92 401.41 74.09 401.19 74.26 400.52 74.43 401.41 74.60 402.23 74.78 401.83 74.95 399.66 75.12 401.49 75.29 400.34 75.46 402.01 75.63 404.77 75.80 402.60 75.97 400.93 76.14 398.62 76.32 398.88 76.49 398.32 76.66 402.28 76.83 399.67 77.00 400.96 77.17 399.71 77.34 400.81 77.51 402.92 77.68 399.29 77.86 399.77 78.03 398.88 78.20 401.63 78.37 398.30 78.54 398.02 78.71 397.48 78.88 397.34 79.05 400.43 79.23 403.90 79.40 397.72 79.57 400.93 79.74 399.63 79.91 397.22 80.08 398.52 80.25 398.49 80.42 397.59 80.59 401.97 80.77 395.29 80.94 399.10 81.11 398.91 81.28 397.23 81.45 398.38 81.62 399.52 81.79 398.16 81.96 398.50 82.14 398.87 82.31 394.05 82.48 400.00 82.65 401.27 82.82 398.91 82.99 398.85 83.16 394.54 83.33 396.66 83.50 395.33 83.68 395.60 83.85 398.18 84.02 394.98 84.19 396.02 84.36 392.80 84.53 395.72 84.70 396.03 84.87 394.51 85.05 394.35 85.22 398.77 85.39 393.22 85.56 393.35 85.73 393.63 85.90 397.01 86.07 398.46 86.24 395.20 86.41 393.19 86.59 393.55 86.76 396.02 86.93 392.37 87.10 396.38 87.27 396.14 87.44 393.58 87.61 394.42 87.78 394.42 87.96 395.66 88.13 390.83 88.30 394.60 88.47 391.62 88.64 390.70 88.81 392.03 88.98 391.23 89.15 389.61 89.32 388.26 89.50 389.18 89.67 393.24 89.84 393.89 90.01 391.24 90.18 391.92 90.35 388.53 90.52 389.02 90.69 389.36 90.87 386.53 91.04 386.35 91.21 387.98 91.38 386.85 91.55 385.10 91.72 387.38 91.89 385.77 92.06 387.73 92.23 385.39 92.41 384.39 92.58 384.72 92.75 383.68 92.92 382.26 93.09 382.25 93.26 383.90 93.43 383.17 93.60 383.84 93.78 377.58 93.95 379.48 94.12 378.83 94.29 379.34 94.46 377.50 94.63 376.72 94.80 378.58 94.97 376.72 95.14 373.38 95.32 377.59 95.49 376.20 95.66 372.34 95.83 374.38 96.00 370.48 96.17 373.42 96.34 369.92 96.51 367.92 96.69 367.95 96.86 366.31 97.03 367.41 97.20 366.51 97.37 365.34 97.54 363.23 97.71 357.65 97.88 362.76 98.05 357.66 98.23 361.23 98.40 362.17 98.57 359.40 98.74 357.02 98.91 356.49 99.08 355.60 99.25 353.70 99.42 352.60 99.60 350.81 99.77 354.38 99.94 350.66 100.11 351.70 100.28 347.88 100.45 347.42 100.62 345.64 100.79 345.79 100.96 345.28 101.14 342.56 101.31 339.01 101.48 337.25 101.65 341.36 101.82 335.34 101.99 333.87 102.16 336.71 102.33 334.78 102.50 332.73 102.68 330.13 102.85 336.62 103.02 332.22 103.19 333.06 103.36 331.98 103.53 329.73 103.70 330.62 103.87 335.38 104.05 335.98 104.22 335.09 104.39 333.46 104.56 333.35 104.73 336.42 104.90 334.25 105.07 340.15 105.24 341.16 105.41 345.38 105.59 341.37 105.76 338.42 105.93 338.23 106.10 334.27 106.27 339.80 106.44 341.25 106.61 344.37 106.78 344.09 106.96 344.58 107.13 344.30 107.30 345.90 107.47 348.28 107.64 343.26 107.81 345.28 107.98 343.87 108.15 351.27 108.32 351.25 108.50 350.76 108.67 347.19 108.84 350.97 109.01 350.85 109.18 352.32 109.35 352.53 109.52 354.88 109.69 353.71 109.87 357.23 110.04 356.74 110.21 356.43 110.38 357.66 110.55 357.81 110.72 361.32 110.89 359.87 111.06 361.91 111.23 361.31 111.41 359.88 111.58 365.71 111.75 362.47 111.92 366.90 112.09 367.18 112.26 363.75 112.43 366.03 112.60 367.71 112.78 367.89 112.95 367.95 113.12 372.59 113.29 371.39 113.46 373.39 113.63 372.50 113.80 374.69 113.97 373.31 114.14 375.44 114.32 377.31 114.49 376.93 114.66 376.61 114.83 376.04 115.00 379.09 115.17 380.04 115.34 379.48 115.51 379.08 115.69 382.15 115.86 386.39 116.03 381.63 116.20 383.37 116.37 383.95 116.54 378.91 116.71 384.44 116.88 383.35 117.05 387.70 117.23 385.08 117.40 384.54 117.57 385.98 117.74 387.09 117.91 386.14 118.08 387.44 118.25 385.42 118.42 387.84 118.60 390.00 118.77 392.50 118.94 390.51 119.11 390.02 119.28 391.97 119.45 391.95 119.62 393.39 119.79 392.60 119.96 390.69 120.14 391.61 120.31 391.71 120.48 392.16 120.65 392.20 120.82 390.65 120.99 388.50 121.16 391.26 121.33 389.04 121.51 392.95 121.68 393.02 121.85 390.21 122.02 394.57 122.19 395.04 122.36 393.83 122.53 396.75 122.70 397.25 122.87 391.94 123.05 396.03 123.22 395.10 123.39 395.17 123.56 396.19 123.73 393.38 123.90 393.71 124.07 393.39 124.24 393.60 124.42 394.83 124.59 392.54 124.76 393.32 124.93 396.23 125.10 395.16 125.27 396.01 125.44 392.08 125.61 394.06 125.78 394.50 125.96 395.57 126.13 394.52 126.30 397.20 126.47 395.50 126.64 395.65 126.81 395.66 126.98 396.89 127.15 394.84 127.32 397.63 127.50 396.48 127.67 395.95 127.84 395.76 128.01 396.60 128.18 397.46 128.35 397.34 128.52 396.35 128.69 397.22 128.87 395.90 129.04 397.88 129.21 395.65 129.38 392.08 129.55 398.05 129.72 395.92 129.89 393.70 130.06 395.42 130.23 394.25 130.41 399.49 130.58 396.73 130.75 393.16 130.92 396.90 131.09 395.31 131.26 399.41 131.43 394.30 131.60 392.30 131.78 396.41 131.95 395.79 132.12 395.77 132.29 392.89 132.46 397.47 132.63 399.76 132.80 393.69 132.97 399.17 133.14 396.32 133.32 401.52 133.49 398.39 133.66 397.50 133.83 399.92 134.00 399.12 134.17 397.42 134.34 399.87 134.51 398.01 134.69 396.06 134.86 402.82 135.03 399.01 135.20 398.83 135.37 400.70 135.54 397.76 135.71 398.39 135.88 400.11 136.05 400.37 136.23 401.65 136.40 403.70 136.57 401.33 136.74 403.24 136.91 403.72 137.08 401.22 137.25 403.71 137.42 402.08 137.60 405.70 137.77 405.00 137.94 404.58 138.11 402.66 138.28 405.35 138.45 404.21 138.62 406.91 138.79 405.87 138.96 405.04 139.14 408.14 139.31 408.10 139.48 406.27 139.65 409.37 139.82 407.30 139.99 407.56 140.16 408.53 140.33 407.40 140.51 408.15 140.68 408.86 140.85 411.79 141.02 411.98 141.19 409.45 141.36 412.63 141.53 410.26 141.70 411.16 141.87 412.17 142.05 411.47 142.22 414.99 142.39 411.82 142.56 409.79 142.73 413.88 142.90 411.41 143.07 411.78 143.24 408.12 143.42 414.17 143.59 414.07 143.76 414.22 143.93 414.67 144.10 415.94 144.27 413.45 144.44 415.12 144.61 412.72 144.78 413.48 144.96 415.79 145.13 414.93 145.30 412.47 145.47 415.20 145.64 414.52 145.81 413.71 145.98 415.75 146.15 414.63 146.33 413.02 146.50 413.86 146.67 418.32 146.84 413.54 147.01 416.28 147.18 416.99 147.35 417.17 147.52 414.52 147.69 416.00 147.87 416.82 148.04 417.93 148.21 415.91 148.38 415.27 148.55 418.61 148.72 418.88 148.89 417.92 149.06 416.60 149.24 418.22 149.41 417.90 149.58 419.09 149.75 416.14 149.92 418.27 150.09 417.98 150.26 416.71 150.43 418.77 150.60 418.62 150.78 418.08 150.95 419.37 151.12 416.84 151.29 418.95 151.46 419.76 151.63 419.66 151.80 420.92 151.97 417.73 152.14 417.39 152.32 420.03 152.49 420.45 152.66 422.96 152.83 420.90 153.00 418.85 153.17 421.38 153.34 419.11 153.51 418.29 153.69 424.27 153.86 421.10 154.03 421.76 154.20 421.64 154.37 423.53 154.54 421.44 154.71 422.87 154.88 419.77 155.05 419.35 155.23 423.46 155.40 423.62 155.57 422.34 155.74 422.04 155.91 422.04 156.08 420.93 156.25 424.17 156.42 423.02 156.60 422.89 156.77 422.80 156.94 423.84 157.11 423.16 157.28 423.59 157.45 420.99 157.62 423.43 157.79 425.87 157.96 422.17 158.14 422.80 158.31 424.31 158.48 424.49 158.65 424.10 158.82 421.06 158.99 424.10 159.16 421.83 159.33 422.41 159.51 424.41 159.68 423.31 159.85 424.93 160.02 427.77 160.19 425.04 160.36 425.04 160.53 422.88 160.70 423.30 160.87 422.80 161.05 423.61 161.22 422.91 161.39 423.59 161.56 424.28 161.73 423.26 161.90 422.76 162.07 422.92 162.24 425.48 162.42 425.01 162.59 426.41 162.76 426.50 162.93 424.67 163.10 426.12 163.27 423.31 163.44 428.46 163.61 427.04 163.78 425.18 163.96 423.96 164.13 426.13 164.30 423.13 164.47 424.68 164.64 426.82 164.81 425.97 164.98 425.26 165.15 427.28 165.33 424.64 165.50 426.50 165.67 425.50 165.84 425.09 166.01 426.92 166.18 425.01 166.35 428.98 166.52 425.68 166.69 429.21 166.87 425.11 167.04 427.46 167.21 425.08 167.38 424.95 167.55 427.03 167.72 427.78 167.89 425.21 168.06 428.56 168.24 425.96 168.41 427.26 168.58 427.64 168.75 427.98 168.92 424.83 169.09 429.45 169.26 428.09 169.43 426.82 169.60 426.07 169.78 425.23 169.95 425.73 170.12 428.32 170.29 427.18 170.46 426.18 170.63 427.03 170.80 429.86 170.97 427.39 171.15 427.10 171.32 429.72 171.49 428.58 171.66 428.07 171.83 427.25 172.00 426.05 172.17 426.60 172.34 427.56 172.51 427.95 172.69 428.75 172.86 429.05 173.03 428.66 173.20 428.70 173.37 427.12 173.54 425.65 173.71 427.84 173.88 427.32 174.06 427.75 174.23 428.29 174.40 427.06 174.57 427.27 174.74 428.64 174.91 428.96 175.08 427.99 175.25 429.54 175.42 428.64 175.60 427.63 175.77 429.06 175.94 431.51 176.11 428.19 176.28 430.64 176.45 430.95 176.62 431.15 176.79 428.14 176.96 431.89 177.14 429.44 177.31 429.00 177.48 429.06 177.65 430.18 177.82 429.50 177.99 429.23 178.16 431.17 178.33 428.59 178.51 428.21 178.68 430.63 178.85 430.55 179.02 431.09 179.19 428.30 179.36 431.13 179.53 430.39 179.70 432.08 179.87 428.20 180.05 430.14 180.22 429.52 180.39 427.85 180.56 429.02 180.73 431.44 180.90 429.40 181.07 429.10 181.24 431.19 181.42 431.38 181.59 431.40 181.76 429.13 181.93 430.11 182.10 431.54 182.27 429.39 182.44 429.30 182.61 431.37 182.78 432.34 182.96 428.86 183.13 427.03 183.30 428.54 183.47 429.13 183.64 430.28 183.81 431.28 183.98 430.33 184.15 429.64 184.33 430.77 184.50 429.36 184.67 430.56 184.84 429.82 185.01 434.12 185.18 431.75 185.35 429.65 185.52 429.47 185.69 430.21 185.87 428.69 186.04 429.89 186.21 429.90 186.38 432.01 186.55 430.35 186.72 429.91 186.89 429.23 187.06 429.46 187.24 430.91 187.41 430.74 187.58 432.49 187.75 430.26 187.92 432.45 188.09 431.44 188.26 431.13 188.43 428.59 188.60 429.53 188.78 432.15 188.95 433.01 189.12 431.52 189.29 432.25 189.46 430.78 189.63 430.85 189.80 430.50 189.97 432.61 190.15 431.82 190.32 431.11 190.49 431.01 190.66 432.16 190.83 431.89 191.00 430.44 191.17 433.70 191.34 431.87 191.51 431.57 191.69 433.46 191.86 432.90 192.03 431.51 192.20 432.33 192.37 430.31 192.54 430.87 192.71 428.84 192.88 433.28 193.06 429.34 193.23 432.63 193.40 430.74 193.57 430.57 193.74 431.58 193.91 432.19 194.08 432.65 194.25 434.14 194.42 432.37 194.60 433.05 194.77 431.19 194.94 432.87 195.11 432.19 195.28 431.43 195.45 431.91 195.62 431.97 195.79 432.31 195.97 432.60 196.14 431.47 196.31 431.19 196.48 433.09 196.65 430.03 196.82 431.41 196.99 434.16 197.16 428.81 197.33 431.37 197.51 433.13 197.68 430.20 197.85 435.57 198.02 429.06 198.19 434.15 198.36 434.32 198.53 433.53 198.70 432.12 198.88 432.86 199.05 431.30 199.22 433.47 199.39 431.06 199.56 432.14 199.73 433.76 199.90 431.12 200.07 432.08 200.24 432.77 200.42 430.89 200.59 434.06 200.76 433.04 200.93 430.73 201.10 432.59 201.27 431.70 201.44 431.86 201.61 432.80 201.78 431.83 201.96 433.95 202.13 431.88 202.30 434.01 202.47 432.74 202.64 433.88 202.81 432.15 202.98 432.21 203.15 431.42 203.33 433.61 203.50 434.07 203.67 435.57 203.84 434.55 204.01 433.26 204.18 432.71 204.35 433.47 204.52 432.97 204.69 434.85 204.87 434.22 205.04 432.01 205.21 432.22 205.38 434.80 205.55 433.49 205.72 432.84 205.89 434.62 206.06 432.68 206.24 432.83 206.41 432.62 206.58 430.77 206.75 434.30 206.92 431.74 207.09 432.55 207.26 432.35 207.43 434.20 207.60 433.23 207.78 433.35 207.95 431.26 208.12 433.25 208.29 431.55 208.46 433.78 208.63 433.87 208.80 433.41 208.97 435.98 209.15 434.12 209.32 434.22 209.49 433.67 209.66 433.27 209.83 434.73 210.00 434.91 210.17 431.95 210.34 434.89 210.51 434.23 210.69 434.80 210.86 434.21 211.03 432.10 211.20 432.21 211.37 435.94 211.54 434.01 211.71 431.96 211.88 434.16 212.06 433.30 212.23 431.48 212.40 430.95 212.57 431.81 212.74 434.15 212.91 433.77 213.08 433.53 213.25 434.21 213.42 434.62 213.60 431.29 213.77 433.54 213.94 432.90 214.11 432.42 214.28 433.28 214.45 433.82 214.62 433.66 214.79 432.21 214.97 433.42 215.14 436.52 215.31 432.75 215.48 431.99 215.65 434.42 215.82 434.83 215.99 434.69 216.16 432.75 216.33 435.38 216.51 433.20 216.68 432.78 216.85 433.45 217.02 434.08 217.19 435.10 217.36 435.01 217.53 434.23 217.70 435.42 217.88 434.39 218.05 435.41 218.22 432.60 218.39 432.41 218.56 435.31 218.73 432.66 218.90 434.02 219.07 434.28 219.24 433.82 219.42 433.88 219.59 436.15 219.76 431.36 219.93 435.56 220.10 437.31 220.27 434.54 220.44 434.50 220.61 435.43 220.79 436.80 220.96 433.12 221.13 434.70 221.30 434.38 221.47 435.30 221.64 434.83 221.81 435.46 221.98 434.15 222.15 434.74 222.33 433.88 222.50 433.90 222.67 434.55 222.84 434.57 223.01 433.33 223.18 436.69 223.35 434.62 223.52 433.12 223.70 436.16 223.87 433.92 224.04 435.47 224.21 434.85 224.38 435.19 224.55 435.10 224.72 434.21 224.89 434.98 225.06 437.42 225.24 432.23 225.41 435.05 225.58 435.52 225.75 433.72 225.92 433.35 226.09 437.66 226.26 434.60 226.43 437.59 226.60 435.73 226.78 435.19 226.95 435.69 227.12 435.90 227.29 436.57 227.46 435.68 227.63 435.35 227.80 435.40 227.97 436.84 228.15 436.21 228.32 434.01 228.49 434.47 228.66 435.66 228.83 434.52 229.00 434.83 229.17 434.15 229.34 435.00 229.51 435.85 229.69 436.55 229.86 435.38 230.03 437.89 230.20 435.30 230.37 438.80 230.54 436.64 230.71 436.04 230.88 434.85 231.06 432.08 231.23 435.30 231.40 435.71 231.57 437.84 231.74 433.86 231.91 437.84 232.08 435.25 232.25 436.45 232.42 432.52 232.60 435.77 232.77 435.20 232.94 436.46 233.11 435.76 233.28 434.28 233.45 436.82 233.62 436.53 233.79 436.42 233.97 436.94 234.14 437.06 234.31 435.72 234.48 434.13 234.65 434.11 234.82 437.42 234.99 436.66 235.16 435.95 235.33 435.31 235.51 435.89 235.68 435.90 235.85 435.48 236.02 435.06 236.19 438.51 236.36 436.20 236.53 435.21 236.70 434.39 236.88 435.10 237.05 436.85 237.22 436.91 237.39 435.75 237.56 436.09 237.73 435.67 237.90 434.73 238.07 437.63 238.24 436.53 238.42 439.07 238.59 435.21 238.76 435.96 238.93 437.20 239.10 435.86 239.27 434.51 239.44 435.05 239.61 436.32 239.79 436.62 239.96 436.11 240.13 437.44 240.30 437.44 240.47 436.66 240.64 436.32 240.81 436.00 240.98 436.97 241.15 437.43 241.33 436.41 241.50 436.89 241.67 435.98 241.84 434.70 242.01 435.20 242.18 437.33 242.35 436.96 242.52 438.34 242.70 436.52 242.87 437.50 243.04 438.06 243.21 437.68 243.38 435.79 243.55 436.30 243.72 436.69 243.89 435.38 244.06 437.13 244.24 437.80 244.41 436.02 244.58 438.96 244.75 436.28 244.92 436.39 245.09 436.37 245.26 435.82 245.43 437.17 245.61 436.72 245.78 438.68 245.95 437.44 246.12 437.37 246.29 436.48 246.46 435.08 246.63 436.67 246.80 435.78 246.97 437.93 247.15 436.78 247.32 438.80 247.49 437.71 247.66 437.85 247.83 437.14 248.00 437.13 248.17 437.67 248.34 438.00 248.52 436.08 248.69 437.52 248.86 440.05 249.03 436.86 249.20 436.67 249.37 436.17 249.54 435.29 249.71 438.42 249.88 437.10 250.06 437.40 250.23 439.24 250.40 440.03 250.57 436.03 250.74 438.34 250.91 437.84 251.08 437.59 251.25 437.70 251.42 437.12 251.60 439.03 251.77 437.90 251.94 437.59 252.11 438.67 252.28 438.27 252.45 437.76 252.62 437.62 252.79 439.31 252.97 437.86 253.14 437.16 253.31 436.27 253.48 436.89 253.65 436.07 253.82 437.44 253.99 437.63 254.16 434.92 254.33 437.37 254.51 438.12 254.68 437.56 254.85 436.25 255.02 438.88 255.19 436.58 255.36 435.96 255.53 436.15 255.70 437.41 255.88 438.59 256.05 438.82 256.22 437.70 256.39 436.06 256.56 436.70 256.73 436.42 256.90 437.28 257.07 435.41 257.24 437.63 257.42 438.27 257.59 437.34 257.76 438.06 257.93 436.43 258.10 435.83 258.27 436.79 258.44 438.91 258.61 438.76 258.79 437.02 258.96 438.97 259.13 437.18 259.30 439.34 259.47 438.14 259.64 437.04 259.81 438.51 259.98 436.67 260.15 436.48 260.33 435.88 260.50 437.89 260.67 437.52 260.84 437.49 261.01 437.10 261.18 439.27 261.35 437.08 261.52 436.73 261.70 439.04 261.87 439.24 262.04 437.96 262.21 435.52 262.38 436.85 262.55 438.27 262.72 437.57 262.89 439.36 263.06 435.92 263.24 438.32 263.41 436.78 263.58 439.06 263.75 437.40 263.92 438.69 264.09 436.71 264.26 435.80 264.43 436.14 264.61 436.71 264.78 436.21 264.95 438.81 265.12 438.95 265.29 437.68 265.46 436.13 265.63 437.18 265.80 436.49 265.97 439.00 266.15 437.63 266.32 437.81 266.49 436.74 266.66 434.81 266.83 436.25 267.00 435.82 267.17 437.54 267.34 437.19 267.52 436.10 267.69 436.56 267.86 438.84 268.03 435.82 268.20 435.83 268.37 436.61 268.54 436.02 268.71 436.30 268.88 437.40 269.06 438.79 269.23 434.58 269.40 436.63 269.57 436.66 269.74 436.47 269.91 436.30 270.08 436.08 270.25 437.63 270.43 435.83 270.60 436.19 270.77 436.29 270.94 436.37 271.11 435.99 271.28 437.34 271.45 436.08 271.62 436.24 271.79 435.92 271.97 434.72 272.14 434.87 272.31 434.55 272.48 435.99 272.65 434.83 272.82 434.36 272.99 435.86 273.16 436.15 273.34 433.32 273.51 437.44 273.68 435.37 273.85 435.14 274.02 436.49 274.19 435.22 274.36 434.34 274.53 437.68 274.70 433.63 274.88 434.75 275.05 435.84 275.22 433.43 275.39 434.55 275.56 435.08 275.73 437.48 275.90 433.38 276.07 434.34 276.24 435.14 276.42 434.36 276.59 432.72 276.76 434.63 276.93 434.19 277.10 434.54 277.27 435.32 277.44 435.11 277.61 434.30 277.79 434.11 277.96 432.30 278.13 433.43 278.30 433.80 278.47 432.97 278.64 433.52 278.81 432.31 278.98 435.18 279.15 435.89 279.33 432.66 279.50 433.59 279.67 432.74 279.84 434.55 280.01 433.46 280.18 432.96 280.35 432.53 280.52 432.91 280.70 431.44 280.87 433.50 281.04 431.70 281.21 433.22 281.38 432.67 281.55 433.83 281.72 432.39 281.89 433.66 282.06 431.17 282.24 433.06 282.41 431.97 282.58 432.46 282.75 432.28 282.92 433.34 283.09 429.57 283.26 432.50 283.43 430.18 283.61 433.57 283.78 429.53 283.95 430.73 284.12 429.87 284.29 434.04 284.46 430.32 284.63 432.09 284.80 431.25 284.97 429.65 285.15 431.49 285.32 432.76 285.49 431.68 285.66 433.11 285.83 431.46 286.00 431.93 286.17 431.45 286.34 432.38 286.52 434.36 286.69 432.43 286.86 432.23 287.03 431.23 287.20 431.07 287.37 433.90 287.54 430.67 287.71 430.95 287.88 432.01 288.06 431.63 288.23 434.67 288.40 429.26 288.57 432.73 288.74 433.22 288.91 430.95 289.08 431.60 289.25 433.00 289.43 434.55 289.60 431.40 289.77 430.62 289.94 433.88 290.11 434.63 290.28 432.36 290.45 430.07 290.62 434.71 290.79 432.71 290.97 434.43 291.14 433.04 291.31 432.69 291.48 432.67 291.65 435.14 291.82 435.16 291.99 430.79 292.16 432.36 292.34 435.80 292.51 433.22 292.68 432.08 292.85 433.84 293.02 433.79 293.19 433.88 293.36 433.49 293.53 433.79 293.70 433.69 293.88 434.75 294.05 433.43 294.22 434.16 294.39 434.43 294.56 436.29 294.73 435.23 294.90 434.74 295.07 435.61 295.25 435.54 295.42 436.46 295.59 435.85 295.76 437.49 295.93 437.04 296.10 435.46 296.27 435.10 296.44 436.75 296.61 436.40 296.79 435.76 296.96 434.19 297.13 433.86 297.30 436.56 297.47 437.16 297.64 437.29 297.81 434.88 297.98 437.74 298.16 435.96 298.33 437.15 298.50 437.27 298.67 435.91 298.84 436.25 299.01 434.59 299.18 436.04 299.35 435.08 299.52 437.81 299.70 437.45 299.87 438.54 300.04 437.97 300.21 436.89 300.38 438.12 300.55 437.34 300.72 438.58 300.89 438.32 301.06 436.88 301.24 438.11 301.41 438.25 301.58 437.90 301.75 439.37 301.92 440.39 302.09 438.06 302.26 438.15 302.43 436.03 302.61 438.54 302.78 438.26 302.95 436.34 303.12 439.23 303.29 439.64 303.46 438.19 303.63 438.66 303.80 438.05 303.97 440.09 304.15 437.54 304.32 438.98 304.49 441.62 304.66 439.51 304.83 440.04 305.00 439.40 305.17 438.28 305.34 439.64 305.52 440.19 305.69 438.62 305.86 440.22 306.03 441.29 306.20 441.14 306.37 438.19 306.54 438.92 306.71 438.25 306.88 441.33 307.06 440.85 307.23 441.00 307.40 439.26 307.57 438.97 307.74 440.42 307.91 440.48 308.08 439.45 308.25 440.61 308.43 441.21 308.60 440.78 308.77 439.39 308.94 438.22 309.11 440.34 309.28 440.84 309.45 440.40 309.62 440.25 309.79 439.98 309.97 441.59 310.14 440.76 310.31 440.99 310.48 439.79 310.65 440.21 310.82 441.12 310.99 439.84 311.16 439.59 311.34 440.65 311.51 442.38 311.68 441.28 311.85 442.71 312.02 440.97 312.19 440.79 312.36 439.61 312.53 440.54 312.70 442.80 312.88 441.59 313.05 442.06 313.22 442.05 313.39 441.28 313.56 441.08 313.73 441.46 313.90 442.09 314.07 441.87 314.25 441.93 314.42 441.58 314.59 440.57 314.76 441.15 314.93 440.42 315.10 442.58 315.27 439.17 315.44 441.27 315.61 444.16 315.79 441.16 315.96 440.30 316.13 441.55 316.30 443.01 316.47 441.43 316.64 442.29 316.81 441.74 316.98 441.24 317.16 444.74 317.33 441.75 317.50 441.10 317.67 441.16 317.84 442.13 318.01 442.18 318.18 442.59 318.35 441.91 318.52 440.19 318.70 442.37 318.87 441.45 319.04 441.49 319.21 440.19 319.38 441.20 319.55 441.04 319.72 441.82 319.89 440.27 320.07 441.93 320.24 442.03 320.41 440.67 320.58 441.23 320.75 440.99 320.92 442.93 321.09 439.18 321.26 441.58 321.43 440.15 321.61 441.51 321.78 442.92 321.95 441.31 322.12 442.17 322.29 441.10 322.46 444.16 322.63 443.05 322.80 443.29 322.98 440.62 323.15 440.88 323.32 443.27 323.49 441.89 323.66 441.83 323.83 442.49 324.00 440.76 324.17 442.99 324.34 442.17 324.52 442.69 324.69 441.44 324.86 442.75 325.03 441.43 325.20 443.25 325.37 443.45 325.54 443.22 325.71 442.80 325.88 442.94 326.06 439.31 326.23 443.18 326.40 441.98 326.57 442.39 326.74 441.99 326.91 440.79 327.08 441.73 327.25 443.05 327.43 443.88 327.60 441.67 327.77 441.37 327.94 443.95 328.11 441.42 328.28 444.65 328.45 442.45 328.62 441.45 328.79 443.49 328.97 444.27 329.14 440.88 329.31 444.14 329.48 442.15 329.65 444.08 329.82 442.06 329.99 440.77 330.16 443.04 330.34 443.51 330.51 444.79 330.68 444.40 330.85 443.29 331.02 442.29 331.19 441.99 331.36 442.25 331.53 441.67 331.70 442.29 331.88 439.84 332.05 442.80 332.22 442.58 332.39 445.41 332.56 443.46 332.73 442.12 332.90 443.27 333.07 441.34 333.25 442.02 333.42 440.66 333.59 444.25 333.76 443.34 333.93 441.44 334.10 442.66 334.27 443.76 334.44 443.28 334.61 443.16 334.79 441.83 334.96 442.08 335.13 442.88 335.30 443.78 335.47 441.90 335.64 441.60 335.81 444.05 335.98 441.82 336.16 444.00 336.33 443.11 336.50 443.81 336.67 444.75 336.84 443.62 337.01 443.72 337.18 441.90 337.35 442.15 337.52 443.61 337.70 444.58 337.87 444.43 338.04 445.44 338.21 443.29 338.38 443.18 338.55 444.05 338.72 443.00 338.89 442.92 339.07 441.87 339.24 444.07 339.41 441.86 339.58 443.58 339.75 441.51 339.92 444.22 340.09 441.95 340.26 443.97 340.43 441.36 340.61 442.61 340.78 444.36 340.95 442.23 341.12 443.18 341.29 442.61 341.46 440.65 341.63 443.47 341.80 443.61 341.98 441.97 342.15 443.78 342.32 442.32 342.49 442.11 342.66 443.20 342.83 442.47 343.00 445.67 343.17 441.55 343.34 444.02 343.52 444.30 343.69 441.13 343.86 441.40 344.03 443.87 344.20 442.76 344.37 443.70 344.54 444.52 344.71 442.91 344.89 442.17 345.06 440.40 345.23 443.55 345.40 442.35 345.57 443.69 345.74 443.61 345.91 441.89 346.08 445.22 346.25 444.55 346.43 444.30 346.60 442.14 346.77 442.98 346.94 442.84 347.11 442.99 347.28 442.24 347.45 443.92 347.62 443.71 347.80 443.86 347.97 442.94 348.14 444.87 348.31 443.70 348.48 440.58 348.65 442.83 348.82 443.46 348.99 444.56 349.16 443.22 349.34 443.28 349.51 442.85 349.68 444.28 349.85 443.10 350.02 442.94 350.19 442.80 350.36 444.20 350.53 443.05 350.70 441.84 350.88 444.30 351.05 442.89 351.22 444.03 351.39 444.06 351.56 444.95 351.73 444.79 351.90 443.07 352.07 443.52 352.25 442.33 352.42 445.50 352.59 444.19 352.76 445.21 352.93 443.40 353.10 441.57 353.27 445.38 353.44 443.86 353.61 443.92 353.79 443.84 353.96 444.48 354.13 444.37 354.30 442.12 354.47 444.97 354.64 443.27 354.81 443.34 354.98 445.68 355.16 444.83 355.33 443.50 355.50 441.90 355.67 444.05 355.84 444.46 356.01 443.81 356.18 442.59 356.35 443.08 356.52 442.59 356.70 444.16 356.87 444.81 357.04 445.04 357.21 443.18 357.38 444.22 357.55 444.56 357.72 443.44 357.89 443.84 358.07 446.25 358.24 444.23 358.41 444.95 358.58 443.57 358.75 444.08 358.92 442.23 359.09 444.03 359.26 445.32 359.43 446.29 359.61 445.35 359.78 444.82 359.95 444.15 360.12 443.47 360.29 443.95 360.46 444.77 360.63 443.30 360.80 445.13 360.98 443.11 361.15 442.28 361.32 443.10 361.49 442.42 361.66 442.74 361.83 445.39 362.00 443.99 362.17 444.44 362.34 445.44 362.52 445.55 362.69 443.70 362.86 445.64 363.03 444.66 363.20 444.26 363.37 444.74 363.54 442.78 363.71 443.46 363.89 444.18 364.06 444.95 364.23 443.92 364.40 444.19 364.57 445.35 364.74 445.82 364.91 445.15 365.08 445.69 365.25 443.94 365.43 444.05 365.60 444.71 365.77 444.07 365.94 443.86 366.11 446.14 366.28 444.20 366.45 443.41 366.62 444.94 366.80 446.37 366.97 444.53 367.14 445.75 367.31 444.00 367.48 443.96 367.65 443.76 367.82 444.34 367.99 446.42 368.16 443.29 368.34 446.23 368.51 443.47 368.68 444.29 368.85 445.41 369.02 445.21 369.19 444.85 369.36 442.84 369.53 444.95 369.71 443.51 369.88 447.28 370.05 444.37 370.22 444.80 370.39 443.41 370.56 444.12 370.73 443.28 370.90 445.67 371.07 444.37 371.25 445.24 371.42 443.95 371.59 444.15 371.76 446.03 371.93 443.67 372.10 442.81 372.27 445.13 372.44 443.52 372.62 444.26 372.79 445.68 372.96 443.88 373.13 445.66 373.30 444.04 373.47 446.32 373.64 446.15 373.81 444.29 373.98 444.56 374.16 443.93 374.33 445.01 374.50 446.01 374.67 443.31 374.84 445.78 375.01 443.45 375.18 443.95 375.35 442.99 375.52 447.05 375.70 444.93 375.87 445.13 376.04 444.18 376.21 446.00 376.38 442.71 376.55 444.93 376.72 447.21 376.89 444.53 377.07 444.95 377.24 445.64 377.41 444.10 377.58 444.98 377.75 445.96 377.92 445.17 378.09 445.37 378.26 444.62 378.43 445.32 378.61 445.06 378.78 446.52 378.95 445.77 379.12 444.77 379.29 442.49 379.46 445.79 379.63 445.84 379.80 444.11 379.98 442.99 380.15 443.89 380.32 446.04 380.49 443.99 380.66 444.62 380.83 445.34 381.00 446.38 381.17 445.10 381.34 445.03 381.52 444.57 381.69 446.84 381.86 446.26 382.03 445.06 382.20 443.72 382.37 444.36 382.54 445.79 382.71 444.45 382.89 446.13 383.06 445.58 383.23 445.52 383.40 445.90 383.57 445.75 383.74 444.36 383.91 444.91 384.08 447.68 384.25 444.01 384.43 444.78 384.60 446.38 384.77 445.12 384.94 444.46 385.11 443.94 385.28 445.86 385.45 446.37 385.62 446.77 385.80 445.39 385.97 446.42 386.14 444.28 386.31 445.53 386.48 444.67 386.65 445.55 386.82 446.15 386.99 446.49 387.16 444.37 387.34 446.71 387.51 444.92 387.68 444.36 387.85 445.25 388.02 443.93 388.19 445.45 388.36 445.75 388.53 445.25 388.71 446.02 388.88 445.15 389.05 445.48 389.22 444.00 389.39 445.54 389.56 444.63 389.73 445.05 389.90 445.42 390.07 445.72 390.25 443.84 390.42 443.93 390.59 445.24 390.76 446.04 390.93 445.93 391.10 446.49 391.27 446.92 391.44 446.10 391.62 445.57 391.79 444.54 391.96 444.64 392.13 445.14 392.30 445.90 392.47 445.86 392.64 445.64 392.81 445.49 392.98 446.30 393.16 445.88 393.33 445.97 393.50 445.99 393.67 445.12 393.84 444.63 394.01 446.20 394.18 446.13 394.35 445.49 394.53 445.30 394.70 448.06 394.87 444.96 395.04 445.52 395.21 446.02 395.38 444.58 395.55 445.89 395.72 447.61 395.89 446.74 396.07 446.44 396.24 446.40 396.41 445.92 396.58 446.79 396.75 445.66 396.92 445.39 397.09 445.94 397.26 446.77 397.44 446.19 397.61 446.54 397.78 443.79 397.95 447.09 398.12 448.27 398.29 447.25 398.46 445.57 398.63 445.03 398.80 446.19 398.98 444.91 399.15 446.66 399.32 445.39 399.49 446.92 399.66 447.33 399.83 443.88 400.00 446.26 400.17 445.25 400.34 444.53 400.52 445.35 400.69 445.76 400.86 447.05 401.03 444.45 401.20 447.08 401.37 448.07 401.54 446.63 401.71 446.59 401.89 446.02 402.06 444.85 402.23 446.60 402.40 446.45 402.57 446.81 402.74 448.69 402.91 446.82 403.08 446.52 403.25 447.69 403.43 444.73 403.60 444.95 403.77 445.74 403.94 445.46 404.11 446.84 404.28 445.82 404.45 447.92 404.62 447.70 404.80 446.94 404.97 445.77 405.14 446.80 405.31 447.01 405.48 445.10 405.65 446.55 405.82 446.92 405.99 446.43 406.16 447.81 406.34 447.46 406.51 445.39 406.68 446.36 406.85 445.40 407.02 446.84 407.19 445.38 407.36 447.20 407.53 446.67 407.71 447.27 407.88 446.14 408.05 444.82 408.22 448.09 408.39 446.13 408.56 447.71 408.73 446.76 408.90 447.01 409.07 448.19 409.25 446.69 409.42 447.77 409.59 444.85 409.76 447.25 409.93 446.13 410.10 446.24 410.27 446.39 410.44 446.74 410.62 448.08 410.79 444.53 410.96 446.46 411.13 445.70 411.30 447.61 411.47 446.01 411.64 446.90 411.81 446.05 411.98 447.13 412.16 447.49 412.33 446.07 412.50 446.53 412.67 445.05 412.84 446.80 413.01 447.36 413.18 445.94 413.35 447.64 413.53 444.42 413.70 444.66 413.87 445.13 414.04 446.05 414.21 446.56 414.38 446.47 414.55 446.49 414.72 447.30 414.89 446.10 415.07 445.31 415.24 445.33 415.41 448.72 415.58 444.23 415.75 446.43 415.92 448.08 416.09 447.11 416.26 445.79 416.44 446.64 416.61 447.51 416.78 447.86 416.95 445.75 417.12 447.43 417.29 446.92 417.46 447.79 417.63 448.08 417.80 446.34 417.98 445.24 418.15 447.10 418.32 448.50 418.49 447.41 418.66 446.95 418.83 449.14 419.00 445.69 419.17 447.65 419.35 446.18 419.52 446.81 419.69 446.85 419.86 448.29 420.03 445.84 420.20 446.25 420.37 445.19 420.54 447.29 420.71 446.34 420.89 447.23 421.06 445.74 421.23 446.46 421.40 447.87 421.57 446.66 421.74 447.47 421.91 447.38 422.08 446.50 422.26 445.30 422.43 447.86 422.60 447.05 422.77 447.87 422.94 444.87 423.11 445.24 423.28 444.76 423.45 446.03 423.62 447.96 423.80 447.49 423.97 446.90 424.14 447.07 424.31 447.70 424.48 446.65 424.65 447.35 424.82 447.10 424.99 444.78 425.16 446.59 425.34 448.34 425.51 446.59 425.68 446.85 425.85 446.39 426.02 446.52 426.19 448.14 426.36 446.75 426.53 446.01 426.71 444.24 426.88 446.47 427.05 445.08 427.22 445.23 427.39 447.85 427.56 447.77 427.73 445.16 427.90 447.93 428.07 447.54 428.25 446.31 428.42 447.83 428.59 445.48 428.76 445.91 428.93 445.68 429.10 446.02 429.27 448.01 429.44 445.81 429.62 446.00 429.79 446.20 429.96 447.35 430.13 446.83 430.30 448.03 430.47 446.47 430.64 445.90 430.81 446.69 430.98 447.23 431.16 446.27 431.33 447.48 431.50 449.02 431.67 446.64 431.84 447.26 432.01 448.57 432.18 446.59 432.35 446.39 432.53 446.15 432.70 447.64 432.87 447.76 433.04 447.11 433.21 447.31 433.38 448.53 433.55 448.14 433.72 445.89 433.89 447.27 434.07 447.39 434.24 448.01 434.41 447.08 434.58 446.66 434.75 446.86 434.92 445.55 435.09 447.30 435.26 446.73 435.44 447.80 435.61 446.32 435.78 446.91 435.95 446.38 436.12 446.30 436.29 448.05 436.46 446.90 436.63 447.81 436.80 446.27 436.98 447.48 437.15 445.71 437.32 446.92 437.49 446.90 437.66 447.98 437.83 447.59 438.00 447.24 438.17 448.25 438.35 447.62 438.52 447.96 438.69 448.20 438.86 447.38 439.03 447.16 439.20 447.78 439.37 447.05 439.54 447.85 439.71 448.57 439.89 448.32 440.06 447.11 440.23 446.22 440.40 447.44 440.57 447.38 440.74 448.60 440.91 447.14 441.08 447.31 441.26 448.25 441.43 447.06 441.60 447.38 441.77 449.23 441.94 449.02 442.11 448.18 442.28 447.83 442.45 446.61 442.62 448.12 442.80 447.64 442.97 447.80 443.14 447.08 443.31 447.59 443.48 447.42 443.65 447.92 443.82 449.02 443.99 447.98 444.17 446.00 444.34 446.68 444.51 446.08 444.68 446.87 444.85 448.20 445.02 448.05 445.19 447.08 445.36 447.93 445.53 446.93 445.71 446.29 445.88 446.31 446.05 446.85 446.22 449.10 446.39 446.39 446.56 448.93 446.73 449.02 446.90 447.55 447.08 447.68 447.25 447.13 447.42 447.72 447.59 448.39 447.76 447.76 447.93 448.74 448.10 448.93 448.27 448.11 448.44 448.10 448.62 447.72 448.79 448.13 448.96 446.70 449.13 448.20 449.30 448.01 449.47 446.97 449.64 449.93 449.81 446.87 449.98 446.98 450.16 448.11 450.33 445.94 450.50 447.07 450.67 446.36 450.84 446.91 451.01 447.73 451.18 448.18 451.35 448.96 451.53 448.67 451.70 449.05 451.87 448.47 452.04 447.44 452.21 448.99 452.38 447.43 452.55 447.31 452.72 449.42 452.89 448.70 453.07 448.15 453.24 448.67 453.41 448.80 453.58 446.62 453.75 447.86 453.92 446.81 454.09 448.09 454.26 447.32 454.44 449.31 454.61 448.49 454.78 447.20 454.95 447.98 455.12 446.82 455.29 448.05 455.46 448.55 455.63 448.27 455.80 446.14 455.98 447.70 456.15 448.53 456.32 448.34 456.49 449.18 456.66 446.80 456.83 448.57 457.00 447.43 457.17 448.26 457.35 448.47 457.52 448.75 457.69 447.52 457.86 448.27 458.03 446.96 458.20 446.73 458.37 448.65 458.54 448.06 458.71 446.54 458.89 447.30 459.06 448.15 459.23 449.65 459.40 449.16 459.57 448.93 459.74 446.41 459.91 448.06 460.08 448.63 460.26 448.55 460.43 448.58 460.60 447.95 460.77 449.90 460.94 449.63 461.11 448.11 461.28 447.25 461.45 450.21 461.62 447.68 461.80 449.39 461.97 450.08 462.14 447.31 462.31 448.52 462.48 447.90 462.65 448.75 462.82 448.57 462.99 450.15 463.17 448.84 463.34 448.26 463.51 449.37 463.68 448.02 463.85 447.93 464.02 450.47 464.19 447.50 464.36 447.83 464.53 448.35 464.71 447.29 464.88 446.27 465.05 449.35 465.22 447.57 465.39 447.81 465.56 447.98 465.73 447.40 465.90 447.31 466.08 448.52 466.25 450.69 466.42 449.09 466.59 449.10 466.76 446.92 466.93 448.36 467.10 447.24 467.27 449.15 467.44 448.18 467.62 448.45 467.79 448.33 467.96 447.85 468.13 446.95 468.30 448.99 468.47 447.10 468.64 447.30 468.81 448.16 468.99 447.77 469.16 448.71 469.33 449.44 469.50 448.71 469.67 448.67 469.84 448.50 470.01 449.32 470.18 446.70 470.35 448.85 470.53 447.60 470.70 447.31 470.87 448.52 471.04 448.14 471.21 449.09 471.38 449.59 471.55 446.28 471.72 448.47 471.90 450.44 472.07 449.39 472.24 449.95 472.41 448.66 472.58 447.18 472.75 447.48 472.92 449.27 473.09 449.51 473.26 447.88 473.44 448.33 473.61 448.85 473.78 446.91 473.95 448.27 474.12 450.18 474.29 450.73 474.46 448.52 474.63 450.40 474.80 448.13 474.98 447.86 475.15 446.49 475.32 449.58 475.49 448.30 475.66 450.92 475.83 448.99 476.00 448.86 476.17 446.94 476.35 450.13 476.52 448.34 476.69 448.54 476.86 446.57 477.03 449.60 477.20 449.66 477.37 448.13 477.54 448.81 477.71 449.11 477.89 449.66 478.06 448.84 478.23 450.40 478.40 448.52 478.57 448.17 478.74 448.31 478.91 446.32 479.08 447.99 479.26 449.75 479.43 449.04 479.60 448.00 479.77 449.13 479.94 446.86 480.11 448.53 480.28 449.31 480.45 449.49 480.62 448.07 480.80 449.70 480.97 450.63 481.14 448.43 481.31 449.55 481.48 447.35 481.65 446.97 481.82 449.45 481.99 448.90 482.17 449.06 482.34 448.31 482.51 448.60 482.68 449.66 482.85 450.54 483.02 448.69 483.19 447.31 483.36 450.13 483.53 449.49 483.71 449.57 483.88 449.10 484.05 451.16 484.22 449.00 484.39 449.43 484.56 447.16 484.73 448.39 484.90 448.29 485.08 448.93 485.25 449.30 485.42 448.25 485.59 450.63 485.76 447.96 485.93 448.55 486.10 449.22 486.27 447.79 486.44 449.54 486.62 449.61 486.79 448.73 486.96 450.84 487.13 449.10 487.30 449.29 487.47 448.11 487.64 447.43 487.81 448.43 487.99 448.74 488.16 448.61 488.33 449.79 488.50 446.77 488.67 447.98 488.84 447.32 489.01 450.36 489.18 448.54 489.35 448.59 489.53 448.03 489.70 449.95 489.87 448.70 490.04 449.32 490.21 447.16 490.38 450.23 490.55 449.50 490.72 449.65 490.90 450.31 491.07 448.95 491.24 448.98 491.41 449.83 491.58 449.56 491.75 448.92 491.92 449.20 492.09 448.68 492.26 449.85 492.44 450.07 492.61 449.19 492.78 450.98 492.95 447.72 493.12 448.97 493.29 450.84 493.46 448.80 493.63 447.68 493.81 450.55 493.98 449.74 494.15 448.08 494.32 449.97 494.49 448.26 494.66 447.96 494.83 449.10 495.00 448.79 495.17 448.21 495.35 448.91 495.52 448.31 495.69 449.33 495.86 449.25 496.03 449.99 496.20 448.85 496.37 448.02 496.54 448.04 496.72 449.07 496.89 450.77 497.06 450.12 497.23 448.70 497.40 450.22 497.57 448.22 497.74 450.30 497.91 448.97 498.08 450.07 498.26 449.94 498.43 449.08 498.60 449.67 498.77 448.34 498.94 449.29 499.11 450.40 499.28 452.08 499.45 450.05 499.62 449.47 499.80 448.42 499.97 450.40 500.14 447.82 500.31 448.64 500.48 449.75 500.65 448.26 500.82 450.88 500.99 450.46 501.17 448.88 501.34 448.90 501.51 448.18 501.68 448.11 501.85 449.87 502.02 450.04 502.19 449.79 502.36 449.71 502.53 448.93 502.71 449.81 502.88 448.07 503.05 449.49 503.22 450.89 503.39 450.75 503.56 449.05 503.73 449.18 503.90 450.81 504.08 451.21 504.25 448.09 504.42 449.11 504.59 449.74 504.76 450.68 504.93 448.73 505.10 450.15 505.27 449.25 505.44 451.80 505.62 449.96 505.79 449.43 505.96 449.24 506.13 450.57 506.30 450.21 506.47 448.54 506.64 449.78 506.81 448.31 506.99 448.87 507.16 448.36 507.33 448.34 507.50 448.95 507.67 448.68 507.84 450.11 508.01 450.37 508.18 449.39 508.35 448.56 508.53 450.39 508.70 447.71 508.87 447.81 509.04 450.33 509.21 450.27 509.38 450.58 509.55 449.45 509.72 448.47 509.90 449.18 510.07 450.21 510.24 448.95 510.41 449.01 510.58 448.36 510.75 448.59 510.92 450.49 511.09 450.13 511.26 448.60 511.44 448.68 511.61 449.18 511.78 450.24 511.95 448.61 512.12 449.57 512.29 447.70 512.46 448.54 512.63 450.14 512.81 450.59 512.98 448.65 513.15 449.02 513.32 450.51 513.49 449.39 513.66 449.25 513.83 450.26 514.00 449.96 514.17 450.83 514.35 450.54 514.52 449.25 514.69 449.68 514.86 449.74 515.03 448.52 515.20 448.89 515.37 450.73 515.54 448.32 515.72 450.76 515.89 450.10 516.06 449.70 516.23 450.34 516.40 450.29 516.57 450.99 516.74 449.47 516.91 449.64 517.08 449.63 517.26 451.64 517.43 450.76 517.60 449.00 517.77 449.56 517.94 449.22 518.11 449.90 518.28 450.09 518.45 452.06 518.63 448.18 518.80 450.87 518.97 450.32 519.14 449.25 519.31 449.78 519.48 449.46 519.65 449.98 519.82 450.88 519.99 448.51 520.17 451.18 520.34 449.59 520.51 451.37 520.68 450.34 520.85 451.12 521.02 450.50 521.19 450.99 521.36 450.03 521.54 449.20 521.71 450.62 521.88 450.66 522.05 451.97 522.22 448.11 522.39 449.82 522.56 451.00 522.73 448.83 522.90 449.80 523.08 452.01 523.25 451.36 523.42 449.20 523.59 451.37 523.76 451.15 523.93 450.77 524.10 450.41 524.27 450.28 524.44 449.24 524.62 449.58 524.79 450.75 524.96 450.20 525.13 451.81 525.30 449.77 525.47 447.83 525.64 449.78 525.81 450.35 525.99 450.46 526.16 450.17 526.33 449.34 526.50 451.51 526.67 449.50 526.84 450.79 527.01 449.86 527.18 449.01 527.35 451.46 527.53 447.79 527.70 449.35 527.87 450.55 528.04 449.82 528.21 450.86 528.38 450.07 528.55 449.74 528.72 452.19 528.90 449.97 529.07 450.03 529.24 449.17 529.41 449.49 529.58 450.80 529.75 450.73 529.92 450.21 530.09 449.55 530.26 450.85 530.44 448.63 530.61 449.90 530.78 449.99 530.95 449.44 531.12 450.38 531.29 449.62 531.46 449.50 531.63 451.93 531.81 450.95 531.98 451.38 532.15 450.31 532.32 451.17 532.49 451.00 532.66 451.41 532.83 452.49 533.00 450.08 533.17 450.53 533.35 450.25 533.52 447.70 533.69 449.01 533.86 450.33 534.03 450.91 534.20 449.79 534.37 451.38 534.54 451.53 534.72 449.95 534.89 451.67 535.06 451.97 535.23 450.78 535.40 449.44" stroke="#4a1ad4" stroke-width="1.1"/>
</g>
<rect x="39.25" y="11.55" width="496.15" height="443.85" fill="none" stroke="#000" stroke-width="1.5"/>
<g stroke="#000" stroke-width="1.4"><line x1="64.68" y1="456" x2="64.68" y2="459.0"/><line x1="107.47" y1="456" x2="107.47" y2="461.0"/><line x1="150.26" y1="456" x2="150.26" y2="459.0"/><line x1="193.06" y1="456" x2="193.06" y2="461.0"/><line x1="235.85" y1="456" x2="235.85" y2="459.0"/><line x1="278.64" y1="456" x2="278.64" y2="461.0"/><line x1="321.43" y1="456" x2="321.43" y2="459.0"/><line x1="364.23" y1="456" x2="364.23" y2="461.0"/><line x1="407.02" y1="456" x2="407.02" y2="459.0"/><line x1="449.81" y1="456" x2="449.81" y2="461.0"/><line x1="492.61" y1="456" x2="492.61" y2="459.0"/><line x1="535.40" y1="456" x2="535.40" y2="461.0"/></g>
<g font-size="13.4" text-anchor="middle" fill="#111" stroke="#111" stroke-width="0.3"><text transform="translate(107.47,475.8) scale(1.05,1)">20</text><text transform="translate(193.06,475.8) scale(1.05,1)">30</text><text transform="translate(278.64,475.8) scale(1.05,1)">40</text><text transform="translate(364.23,475.8) scale(1.05,1)">50</text><text transform="translate(449.81,475.8) scale(1.05,1)">60</text><text transform="translate(535.40,475.8) scale(1.05,1)">70</text></g>
<text transform="translate(20.6,234.1) rotate(-90)" text-anchor="middle" font-size="16.1" fill="#111">Intensity (arbitrary units)</text>
<text transform="translate(268.3,500.8) scale(1.03,1)" font-size="14.9" fill="#111"><tspan font-style="italic">2θ</tspan><tspan dx="0.7"> (</tspan><tspan font-size="8.8" dy="-5.5" dx="0.4" stroke="#111" stroke-width="0.35">o</tspan><tspan dy="5.5" dx="1.4">)</tspan></text>
<rect x="181.5" y="507.6" width="212.5" height="27.9" fill="#fff" stroke="#5a5a5a" stroke-width="1.2"/>
<line x1="184" y1="521.8" x2="219.5" y2="521.8" stroke="#9d93e6" stroke-width="1.2"/>
<line x1="260.5" y1="521.8" x2="296.5" y2="521.8" stroke="#dcd3a3" stroke-width="1.2"/>
<text transform="translate(224.4,527.2) scale(1.06,1)" font-size="15.8" fill="#111">PVA</text>
<text transform="translate(301.1,527.2) scale(1.03,1)" font-size="15.8" fill="#111">NaClO<tspan font-size="10.5" dy="4.5">4</tspan><tspan dy="-4.5">·H</tspan><tspan font-size="10.5" dy="4.5">2</tspan><tspan dy="-4.5">O</tspan></text>
</svg>
</body></html>
